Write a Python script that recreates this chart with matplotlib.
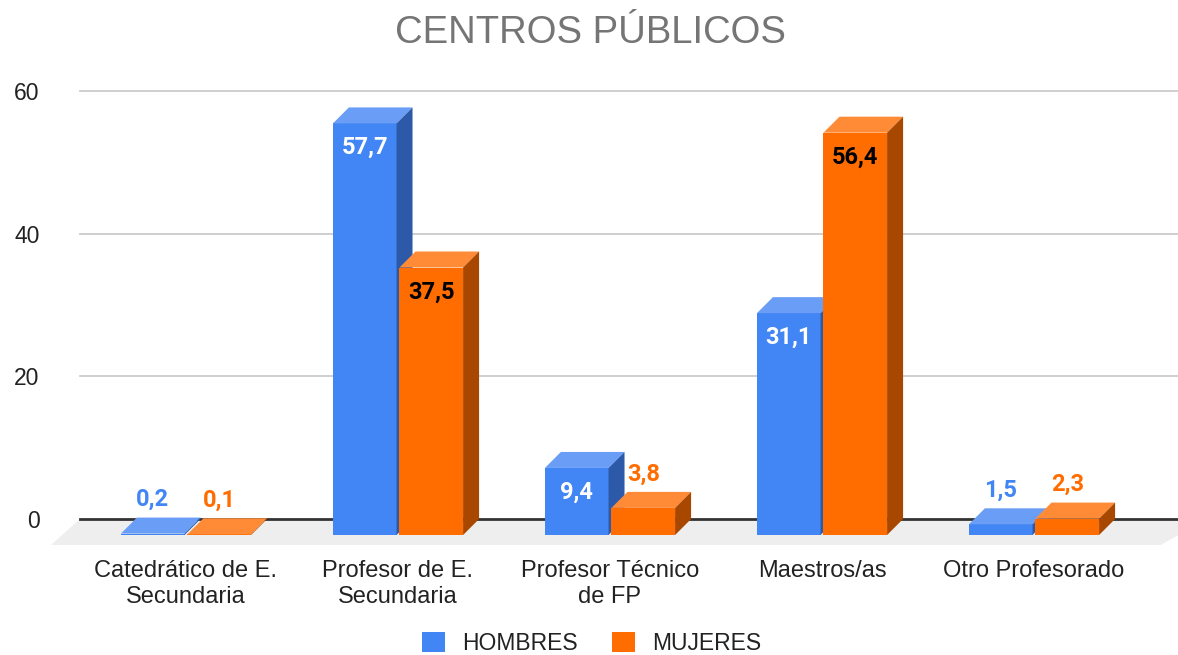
import matplotlib.pyplot as plt
from matplotlib.patches import Polygon, Patch

# data
categories = ["Catedrático de E.\nSecundaria", "Profesor de E.\nSecundaria",
              "Profesor Técnico\nde FP", "Maestros/as", "Otro Profesorado"]
series_names = ["HOMBRES", "MUJERES"]
hombres = [0.2, 57.7, 9.4, 31.1, 1.5]
mujeres = [0.1, 37.5, 3.8, 56.4, 2.3]
yticks = [0, 20, 40, 60]

# colours: front, top, side, label inside
styles = [
    dict(front="#4285F4", top="#6A9EF6", side="#2C5AA9", inside="white"),
    dict(front="#FF6D01", top="#FF8B36", side="#A84700", inside="black"),
]

W, H = 1178, 655
fig = plt.figure(figsize=(W / 100, H / 100), dpi=100)
fig.patch.set_facecolor("white")

# axes spans the back plane: x from gridline start to the right edge
ylo, yhi = -5, 62
px_unit = (519 - 91) / 60.0          # pixels per y unit
bot_px = 519 + (0 - ylo) * px_unit
top_px = 91 - (yhi - 60) * px_unit
cat_px = 212.0                       # pixels per category
x0_px = 186.0                        # centre of first category (front)
ax = fig.add_axes([80 / W, (H - bot_px) / H, (W - 80) / W, (bot_px - top_px) / H])
ax.set_xlim((80 - x0_px) / cat_px, (W - x0_px) / cat_px)
ax.set_ylim(ylo, yhi)
for s in ax.spines.values():
    s.set_visible(False)

# 3d depth offsets
dx = 16 / cat_px
dy = 16 / px_unit
floor_d = 26 / px_unit
floor_dx = 29 / cat_px

xmin, xmax = ax.get_xlim()
floor = Polygon([(xmin, 0), (xmax + floor_dx, 0), (xmax - 0.6 * floor_dx, -floor_d),
                 (xmin - floor_dx, -floor_d)], closed=True, facecolor="#EEEEEE",
                edgecolor="none", zorder=0.5, clip_on=False)
ax.add_patch(floor)

for t in yticks[1:]:
    ax.plot([xmin, xmax], [t, t], color="#CCCCCC", lw=1.3, zorder=1, clip_on=False)
ax.plot([xmin, xmax], [0, 0], color="#333333", lw=2, zorder=1.2, clip_on=False)

bw = 0.30
gap = 0.014
z = 3
for i in range(len(categories)):
    for j, vals in enumerate([hombres, mujeres]):
        v = vals[i]
        st = styles[j]
        xl = i - gap / 2 - bw if j == 0 else i + gap / 2
        xr = xl + bw
        yb, yt = -dy, v - dy
        front = Polygon([(xl, yb), (xr, yb), (xr, yt), (xl, yt)], closed=True,
                        facecolor=st["front"], edgecolor="none", zorder=z)
        top = Polygon([(xl, yt), (xr, yt), (xr + dx, v), (xl + dx, v)], closed=True,
                      facecolor=st["top"], edgecolor="none", zorder=z)
        side = Polygon([(xr, yb), (xr + dx, 0), (xr + dx, v), (xr, yt)], closed=True,
                       facecolor=st["side"], edgecolor="none", zorder=z)
        for p in (front, top, side):
            ax.add_patch(p)
        z += 0.1
        lbl = f"{v:.1f}".replace(".", ",")
        xc = (xl + xr) / 2
        if v >= 5:
            ax.annotate(lbl, (xc, yt), xytext=(0, -17.5), textcoords="offset points",
                        ha="center", va="center", fontsize=17, fontweight="bold",
                        family="Roboto", color=st["inside"], zorder=10)
        else:
            ax.annotate(lbl, (xc, v), xytext=(0, 13), textcoords="offset points",
                        ha="center", va="center", fontsize=17, fontweight="bold",
                        family="Roboto", color=st["front"], zorder=2)

ax.set_xticks(range(len(categories)))
ax.set_xticklabels(categories, fontsize=17, family="Liberation Sans", color="#222222")
ax.set_yticks(yticks)
ax.set_yticklabels([str(t) for t in yticks], fontsize=16.5, family="Liberation Sans",
                   color="#222222")
ax.tick_params(axis="x", length=0, pad=4)
ax.tick_params(axis="y", length=0, pad=29)

fig.text(0.501, 1 - 33 / H, "CENTROS PÚBLICOS", ha="center", va="center",
         fontsize=27.5, family="Liberation Sans", color="#757575")

handles = [Patch(facecolor=styles[k]["front"], edgecolor="none", label=series_names[k])
           for k in range(2)]
fig.legend(handles=handles, loc="center", bbox_to_anchor=(0.502, 1 - 643 / H), ncol=2,
           frameon=False, prop={"family": "Liberation Sans", "size": 16.5},
           handlelength=1.0, handleheight=0.95, handletextpad=0.75, columnspacing=1.5,
           labelcolor="#222222")

fig.savefig("out.png", dpi=100, facecolor="white")
